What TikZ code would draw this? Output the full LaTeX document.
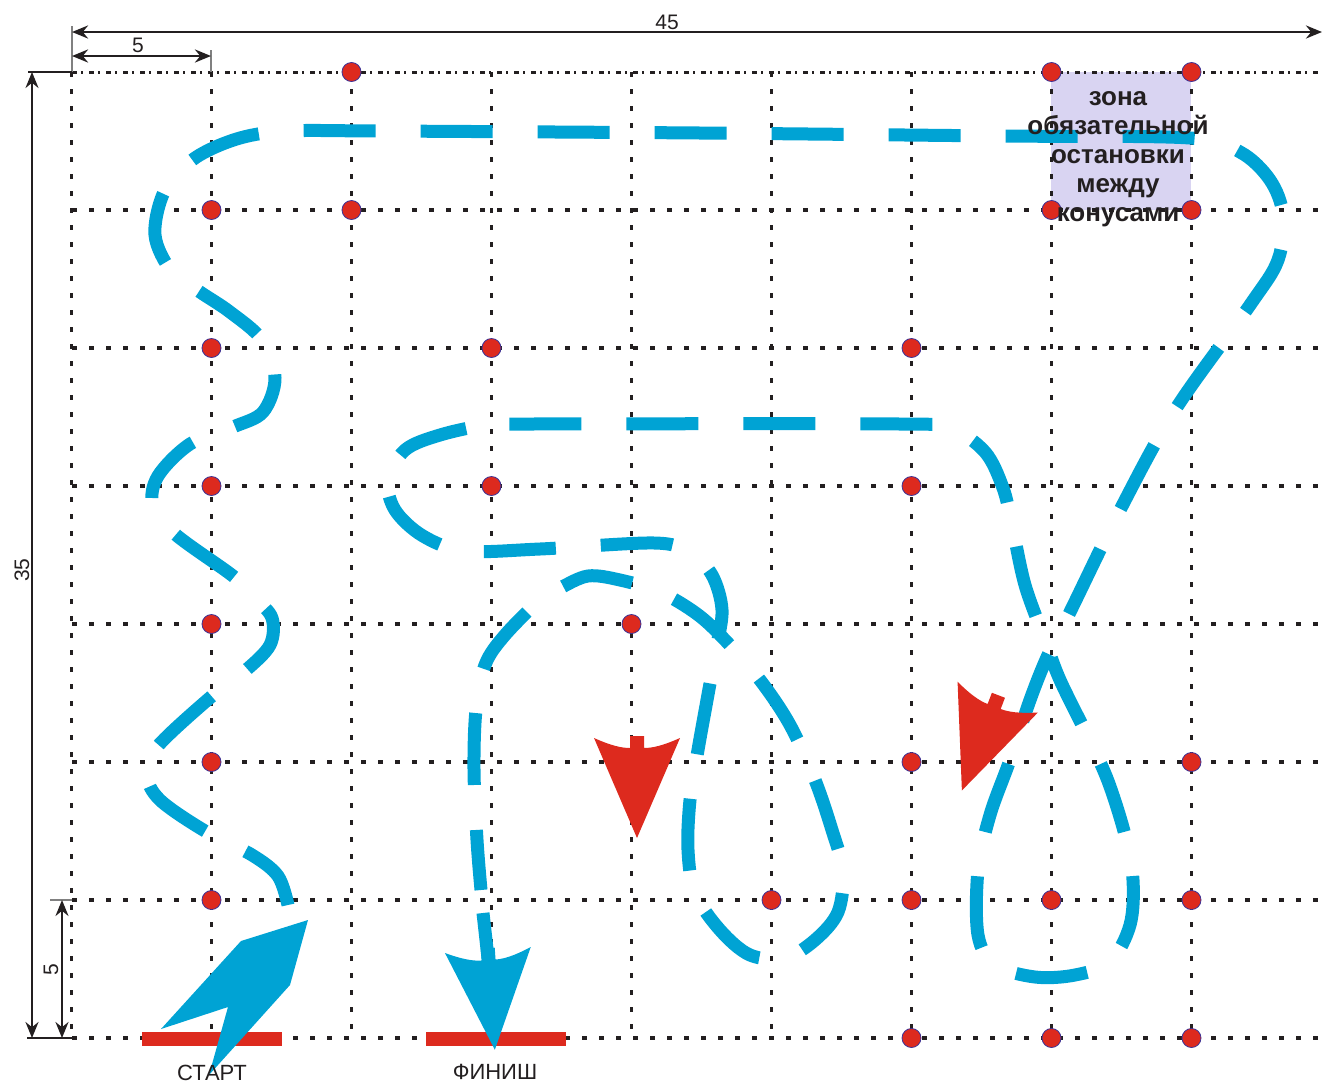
\documentclass[tikz,border=0pt]{standalone}
\usepackage{fontspec}
\setmainfont{Liberation Sans}
\usetikzlibrary{arrows.meta}

\definecolor{routeblue}{RGB}{0,163,212}
\definecolor{conered}{RGB}{221,42,30}
\definecolor{coneedge}{RGB}{60,50,150}
\definecolor{zonefill}{RGB}{217,212,242}
\definecolor{inkgrey}{RGB}{35,31,32}

\begin{document}
\begin{tikzpicture}[x=1pt,y=-1pt,
  gridline/.style={inkgrey, line width=3.3pt, dash pattern=on 4.5pt off 12.5pt},
  gridtop/.style={inkgrey, line width=3pt, dash pattern=on 4.5pt off 4.5pt on 1.5pt off 6.5pt},
  route/.style={routeblue, line width=13pt, dash pattern=on 72pt off 45pt},
  cone/.style={fill=conered, draw=coneedge, line width=0.8pt},
  dimline/.style={inkgrey, line width=2.8pt, {Stealth[length=16pt,width=13pt]}-{Stealth[length=16pt,width=13pt]}},
  extline/.style={gray, line width=1.5pt},
  dimtext/.style={inkgrey, font=\fontsize{21}{21}\selectfont},
  labeltext/.style={inkgrey, font=\fontsize{22}{22}\selectfont},
  bar/.style={conered, line width=14pt},
  zonetext/.style={inkgrey, align=center, font=\bfseries\fontsize{26}{29}\selectfont},
  pics/dirarrow/.style={code={
    \fill[#1] (-43,-2) .. controls (-25,6) and (-15,8) .. (-7,8) -- (-7,-4) -- (7,-4) -- (7,8)
      .. controls (15,8) and (25,6) .. (43,-2) -- (0,98) -- cycle;}}]
\useasboundingbox (0,0) rectangle (1322,1085);

% stop zone and grid
\fill[zonefill] (1051,72) rectangle (1191,210);
\foreach \i in {0,...,8}
  \draw[gridline] (71.5+140*\i,72) -- (71.5+140*\i,1038);
\foreach \j in {1,...,7}
  \draw[gridline] (72,72+138*\j) -- (1322,72+138*\j);
\draw[gridtop] (72,72) -- (1322,72);

% dimensions
\draw[extline] (72,26) -- (72,72);
\draw[extline] (211,50) -- (211,72);
\draw[extline, inkgrey] (28,72) -- (72,72);
\draw[extline, inkgrey] (27,1038) -- (72,1038);
\draw[extline] (50,900) -- (72,900);
\draw[dimline] (72,32) -- (1322,32);
\draw[dimline] (72,56) -- (211,56);
\draw[dimline, line width=2.2pt] (32,72) -- (32,1038);
\draw[dimline, line width=2.2pt] (62,900) -- (62,1038);
\node[dimtext] (w45) at (667,22) {45};
\node[dimtext] (w5) at (138,45) {5};
\node[dimtext, rotate=90] (h35) at (22,570) {35};
\node[dimtext, rotate=90] (h5) at (51,970) {5};

% route
\draw[route] plot[smooth, tension=0.55] coordinates {
  (288,905) (278,876) (252,855) (205,831) (160,800) (147,775) (157,747) (212,696)
  (245,671) (270,645) (272,618) (255,598) (233,576) (175,534) (153,505) (158,476)
  (190,444) (233,427) (263,412) (275,378) (262,340) (230,312) (200,292) (172,272)
  (155,235) (165,190) (195,158) (240,138) (290,131) (380,131) (700,133) (1000,136)
  (1190,138) (1240,152) (1270,180) (1283,215) (1278,260) (1250,305) (1175,410)
  (1120,510) (1070,612) (1048,655) (1030,700) (1010,760) (990,815) (978,870)
  (978,935) (995,965) (1035,977) (1075,975) (1110,962) (1130,925) (1133,880)
  (1125,835) (1108,781) (1088,737) (1060,680) (1045,640) (1025,585) (1012,525)
  (1003,488) (985,452) (950,428) (900,424) (530,424) (487,425) (440,435) (405,450)
  (388,480) (395,510) (423,536) (465,551) (540,549) (655,543) (690,553) (712,575)
  (722,610) (716,650) (707,700) (698,750) (690,800) (688,850) (695,893) (720,930)
  (750,955) (785,958) (815,940) (838,912) (843,871) (832,830) (815,780) (790,725)
  (760,680) (725,640) (697,614) (660,592) (620,580) (588,576) (560,588) (543,597)
  (505,635) (485,665) (476,710) (474,770) (477,840) (481,890)};

% cones
\foreach \c/\r in {2/0,7/0,8/0,1/1,2/1,7/1,8/1,1/2,3/2,6/2,1/3,3/3,6/3,1/4,4/4,
    1/5,6/5,8/5,1/6,5/6,6/6,7/6,8/6,6/7,7/7,8/7}
  \draw[cone] (71.5+140*\c,72+138*\r) circle[radius=9.5];

\node[zonetext] (zone) at (1118,159) {зона\\обязательной\\остановки\\между\\конусами};

% start and finish
\draw[bar] (142,1039) -- (282,1039);
\draw[bar] (426,1039) -- (566,1039);
\fill[routeblue] (308,920) -- (290,985) -- (209,1075) -- (228,1007) -- (161,1029) -- (241,941) -- cycle;
\draw[routeblue, line width=13pt] (483,913) -- (488,958);
\pic[rotate=4] at (488,952) {dirarrow=routeblue};
\node[labeltext] (start) at (212,1073) {СТАРТ};
\node[labeltext] (finish) at (495,1072) {ФИНИШ};

% direction arrows
\pic at (637,740) {dirarrow=conered};
\pic[rotate=-21] at (997,699) {dirarrow=conered};
\end{tikzpicture}
\end{document}
